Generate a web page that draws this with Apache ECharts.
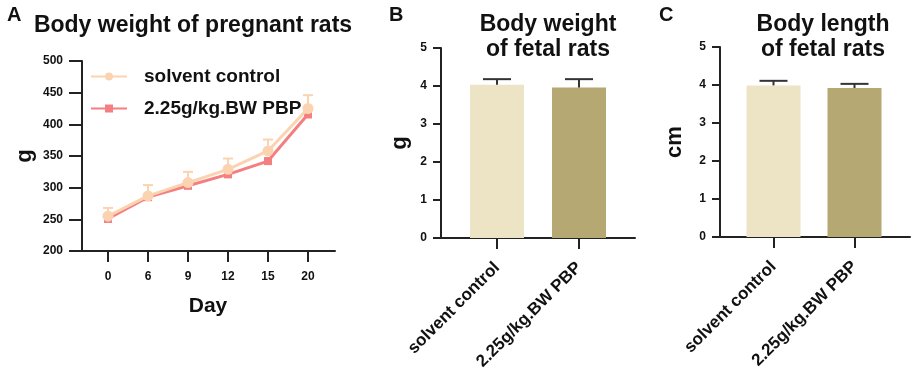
<!DOCTYPE html>
<html>
<head>
<meta charset="utf-8">
<script src="https://cdn.jsdelivr.net/npm/echarts@6/dist/echarts.min.js"></script>
<style>
  html, body { margin: 0; padding: 0; background: #fff; }
  #main { width: 913px; height: 379px; }
</style>
</head>
<body>
<div id="main"></div>
<script>
// panel A: body weight of pregnant rats
var days = ['0', '6', '9', '12', '15', '20'];
var ctrlWeight = [255, 287, 308, 329, 358, 425];
var ctrlWeightSd = [13, 17, 17, 17, 18, 21];
var pbpWeight = [251, 285, 303, 321, 342, 416];
var pbpWeightSd = [5, 4, 4, 4, 4, 5];

// panels B and C: fetal rats
var groups = ['solvent control', '2.25g/kg.BW PBP'];
var fetalWeight = [4.03, 3.96];
var fetalWeightSd = [0.15, 0.22];
var fetalLength = [3.99, 3.92];
var fetalLengthSd = [0.12, 0.11];

var FONT = 'Liberation Sans, Arial, sans-serif';
var AXIS = '#222';
var C_CTRL = '#FBD3B0';
var C_PBP = '#F47E80';
var BAR_CTRL = '#EDE4C5';
var BAR_PBP = '#B6A872';

function errData(mean, sd) {
  return mean.map(function (m, i) { return [i, m, sd[i]]; });
}

// draws mean -> mean+dir*sd with a cap
function errSeries(xi, yi, data, color, capW, dir, z) {
  return {
    type: 'custom',
    xAxisIndex: xi,
    yAxisIndex: yi,
    z: z,
    silent: true,
    data: data,
    renderItem: function (params, api) {
      var i = api.value(0);
      var p0 = api.coord([i, api.value(1)]);
      var p1 = api.coord([i, api.value(1) + dir * api.value(2)]);
      var st = { stroke: color, lineWidth: 2 };
      return {
        type: 'group',
        children: [
          { type: 'line', shape: { x1: p0[0], y1: p0[1], x2: p1[0], y2: p1[1] }, style: st },
          { type: 'line', shape: { x1: p1[0] - capW / 2, y1: p1[1], x2: p1[0] + capW / 2, y2: p1[1] }, style: st }
        ]
      };
    }
  };
}

function lineAxisX(gi) {
  return {
    type: 'value', gridIndex: gi, min: 0, max: 1,
    axisLine: { show: true, onZero: false, lineStyle: { color: AXIS, width: 2 } },
    axisTick: { show: false }, axisLabel: { show: false }, splitLine: { show: false }
  };
}
function hiddenY(gi) {
  return { type: 'value', gridIndex: gi, show: false, min: 0, max: 1 };
}

function catAxis(gi, data, rotate, size, margin) {
  return {
    type: 'category', gridIndex: gi, data: data,
    axisLine: { show: false },
    axisTick: { show: true, alignWithLabel: true, length: 11, lineStyle: { color: AXIS, width: 2 } },
    axisLabel: { rotate: rotate, margin: margin, color: '#111', fontFamily: FONT, fontWeight: 'bold', fontSize: size },
    splitLine: { show: false }
  };
}

function valAxis(gi, min, max, interval, offset, name, nameGap, tickLen, margin) {
  return {
    type: 'value', gridIndex: gi, min: min, max: max, interval: interval, offset: offset,
    name: name, nameLocation: 'middle', nameGap: nameGap,
    nameTextStyle: { color: '#111', fontFamily: FONT, fontWeight: 'bold', fontSize: 22 },
    axisLine: { show: true, lineStyle: { color: AXIS, width: 2 } },
    axisTick: { show: true, length: tickLen, lineStyle: { color: AXIS, width: 2 } },
    axisLabel: { color: '#111', fontFamily: FONT, fontWeight: 'bold', fontSize: 12, margin: margin },
    splitLine: { show: false }
  };
}

var titleStyle = { color: '#111', fontFamily: FONT, fontWeight: 'bold', fontSize: 23, lineHeight: 25 };
var letterStyle = { color: '#111', fontFamily: FONT, fontWeight: 'bold', fontSize: 20 };

var option = {
  animation: false,
  backgroundColor: '#fff',
  title: [
    { text: 'A', left: 2, top: 0, textStyle: letterStyle },
    { text: 'B', left: 384, top: 0, textStyle: letterStyle },
    { text: 'C', left: 654, top: 0, textStyle: letterStyle },
    { text: 'Body weight of pregnant rats', left: 188, top: 8, textAlign: 'center', textStyle: titleStyle },
    { text: 'Body weight\nof fetal rats', left: 543, top: 7, textAlign: 'center', textStyle: titleStyle },
    { text: 'Body length\nof fetal rats', left: 818, top: 7, textAlign: 'center', textStyle: titleStyle }
  ],
  legend: {
    left: 90, top: 67, padding: 0, orient: 'vertical', itemWidth: 36, itemHeight: 10, itemGap: 13,
    data: ['solvent control', '2.25g/kg.BW PBP'],
    textStyle: { color: '#111', fontFamily: FONT, fontWeight: 'bold', fontSize: 19, padding: [0, 0, 0, 12] }
  },
  grid: [
    { left: 88, top: 61, width: 240, height: 190 },
    { left: 82, top: 61, width: 253, height: 190 },
    { left: 456, top: 48, width: 164, height: 190 },
    { left: 441, top: 48, width: 194, height: 190 },
    { left: 733, top: 47, width: 162, height: 190 },
    { left: 720, top: 47, width: 190, height: 190 }
  ],
  xAxis: [
    Object.assign(catAxis(0, days, 0, 12, 20), {
      name: 'Day', nameLocation: 'middle', nameGap: 45,
      nameTextStyle: { color: '#111', fontFamily: FONT, fontWeight: 'bold', fontSize: 21 }
    }),
    lineAxisX(1),
    catAxis(2, groups, 45, 17, 27),
    lineAxisX(3),
    catAxis(4, groups, 45, 17, 27),
    lineAxisX(5)
  ],
  yAxis: [
    valAxis(0, 200, 500, 50, 6, 'g', 46, 13, 19),
    hiddenY(1),
    valAxis(2, 0, 5, 1, 15, 'g', 30, 8, 14),
    hiddenY(3),
    valAxis(4, 0, 5, 1, 13, 'cm', 34, 8, 14),
    hiddenY(5)
  ],
  series: [
    errSeries(0, 0, errData(pbpWeight, pbpWeightSd), C_PBP, 8, -1, 3),
    {
      name: '2.25g/kg.BW PBP', type: 'line', xAxisIndex: 0, yAxisIndex: 0, z: 4,
      data: pbpWeight, symbol: 'rect', symbolSize: 8,
      lineStyle: { color: C_PBP, width: 3 }, itemStyle: { color: C_PBP }
    },
    errSeries(0, 0, errData(ctrlWeight, ctrlWeightSd), C_CTRL, 10, 1, 5),
    {
      name: 'solvent control', type: 'line', xAxisIndex: 0, yAxisIndex: 0, z: 6,
      data: ctrlWeight, symbol: 'circle', symbolSize: 11,
      lineStyle: { color: C_CTRL, width: 3 }, itemStyle: { color: C_CTRL }
    },
    {
      type: 'bar', xAxisIndex: 2, yAxisIndex: 2, barWidth: 54,
      data: fetalWeight.map(function (v, i) {
        return { value: v, itemStyle: { color: i === 0 ? BAR_CTRL : BAR_PBP } };
      })
    },
    errSeries(2, 2, errData(fetalWeight, fetalWeightSd), '#333', 28, 1, 5),
    {
      type: 'bar', xAxisIndex: 4, yAxisIndex: 4, barWidth: 54,
      data: fetalLength.map(function (v, i) {
        return { value: v, itemStyle: { color: i === 0 ? BAR_CTRL : BAR_PBP } };
      })
    },
    errSeries(4, 4, errData(fetalLength, fetalLengthSd), '#333', 28, 1, 5)
  ]
};

var chart = echarts.init(document.getElementById('main'), null, { renderer: 'canvas' });
chart.setOption(option);
</script>
</body>
</html>
